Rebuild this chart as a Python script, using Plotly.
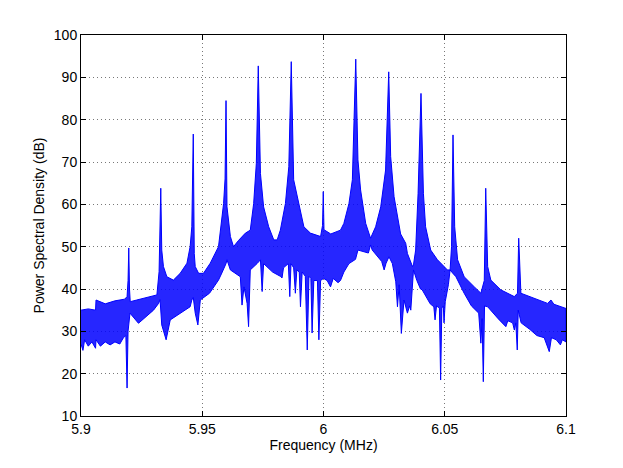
import plotly.graph_objects as go

# Upper envelope of the PSD trace (frequency in MHz, level in dB)
upper_f = [5.9000, 5.9030, 5.9060, 5.9062, 5.9100, 5.9140, 5.9180, 5.9190, 5.9194, 5.9197,
           5.9200, 5.9203, 5.9230, 5.9270, 5.9313, 5.9322, 5.9329, 5.9333, 5.9340, 5.9354,
           5.9381, 5.9409, 5.9437, 5.9450, 5.9457, 5.9463, 5.9467, 5.9471, 5.9485, 5.9505,
           5.9533, 5.9567, 5.9581, 5.9588, 5.9594, 5.9598, 5.9602, 5.9616, 5.9629, 5.9650,
           5.9678, 5.9698, 5.9712, 5.9723, 5.9731, 5.9740, 5.9753, 5.9774, 5.9795, 5.9809,
           5.9822, 5.9843, 5.9857, 5.9867, 5.9877, 5.9898, 5.9919, 5.9946, 5.9988, 5.9996,
           5.9999, 6.0002, 6.0030, 6.0070, 6.0084, 6.0105, 6.0119, 6.0133, 6.0142, 6.0153,
           6.0174, 6.0194, 6.0215, 6.0236, 6.0256, 6.0269, 6.0277, 6.0291, 6.0318, 6.0339,
           6.0346, 6.0367, 6.0371, 6.0380, 6.0390, 6.0402, 6.0412, 6.0421, 6.0442, 6.0470,
           6.0511, 6.0522, 6.0528, 6.0534, 6.0541, 6.0553, 6.0580, 6.0622, 6.0649, 6.0663,
           6.0669, 6.0677, 6.0690, 6.0731, 6.0787, 6.0800, 6.0805, 6.0814, 6.0869, 6.0924,
           6.0938, 6.0950, 6.1000]
upper_db = [35.0, 35.3, 35.0, 37.4, 36.5, 37.2, 37.6, 38.2, 42.0, 49.7,
            40.0, 37.0, 37.4, 38.0, 38.6, 44.1, 63.8, 49.2, 45.3, 42.9,
            42.1, 43.7, 46.1, 50.0, 54.7, 76.6, 48.4, 45.3, 43.7, 43.7,
            46.1, 50.0, 56.3, 60.2, 66.0, 84.5, 59.4, 52.4, 50.0, 51.5,
            53.2, 53.9, 60.2, 69.7, 92.7, 67.3, 59.4, 54.7, 51.6, 51.6,
            53.9, 60.2, 68.9, 93.7, 65.8, 60.2, 54.7, 53.2, 52.4, 55.0,
            63.0, 54.0, 53.0, 53.9, 55.5, 60.2, 65.8, 94.3, 70.5, 63.4,
            55.5, 52.0, 54.7, 59.4, 68.1, 91.3, 71.3, 61.8, 53.0, 50.8,
            48.4, 45.3, 45.7, 49.2, 62.6, 86.2, 62.6, 54.7, 49.2, 46.9,
            44.5, 44.5, 50.0, 76.4, 54.7, 46.9, 42.9, 40.5, 39.0, 42.0,
            63.8, 45.3, 42.1, 39.8, 38.2, 39.0, 52.0, 39.0, 37.8, 36.6,
            37.4, 36.4, 35.4]

# Lower envelope of the PSD trace (frequency in MHz, level in dB)
lower_f = [5.9000, 5.9008, 5.9015, 5.9030, 5.9045, 5.9060, 5.9062, 5.9080, 5.9100, 5.9120,
           5.9140, 5.9160, 5.9175, 5.9185, 5.9190, 5.9194, 5.9202, 5.9237, 5.9271, 5.9299,
           5.9320, 5.9326, 5.9333, 5.9351, 5.9368, 5.9390, 5.9409, 5.9430, 5.9450, 5.9457,
           5.9463, 5.9471, 5.9482, 5.9492, 5.9530, 5.9567, 5.9581, 5.9598, 5.9602, 5.9616,
           5.9640, 5.9657, 5.9664, 5.9672, 5.9685, 5.9691, 5.9698, 5.9726, 5.9740, 5.9747,
           5.9753, 5.9790, 5.9822, 5.9829, 5.9835, 5.9855, 5.9861, 5.9866, 5.9877, 5.9884,
           5.9890, 5.9900, 5.9905, 5.9912, 5.9925, 5.9933, 5.9940, 5.9948, 5.9953, 5.9960,
           5.9975, 5.9981, 5.9988, 6.0000, 6.0015, 6.0029, 6.0040, 6.0060, 6.0070, 6.0084,
           6.0105, 6.0132, 6.0142, 6.0185, 6.0194, 6.0201, 6.0240, 6.0250, 6.0258, 6.0270,
           6.0284, 6.0298, 6.0305, 6.0312, 6.0321, 6.0332, 6.0346, 6.0355, 6.0360, 6.0371,
           6.0385, 6.0400, 6.0407, 6.0440, 6.0455, 6.0460, 6.0466, 6.0478, 6.0483, 6.0488,
           6.0494, 6.0497, 6.0502, 6.0515, 6.0522, 6.0532, 6.0546, 6.0580, 6.0610, 6.0640,
           6.0649, 6.0654, 6.0659, 6.0664, 6.0677, 6.0720, 6.0752, 6.0760, 6.0780, 6.0787,
           6.0793, 6.0799, 6.0803, 6.0815, 6.0850, 6.0880, 6.0910, 6.0931, 6.0940, 6.0960,
           6.0977, 6.0985, 6.1000]
lower_db = [27.0, 25.5, 28.0, 26.5, 27.5, 26.0, 28.0, 26.5, 27.5, 26.8,
            27.5, 27.0, 28.5, 29.0, 16.6, 30.0, 34.3, 31.9, 33.5, 35.0,
            36.6, 37.5, 31.5, 28.0, 32.7, 33.5, 34.3, 35.0, 35.8, 37.4,
            38.0, 34.3, 31.5, 37.4, 39.0, 42.1, 43.8, 46.0, 46.9, 44.5,
            43.5, 42.9, 36.2, 40.5, 36.6, 31.1, 44.5, 46.0, 46.9, 39.4,
            46.0, 44.0, 43.0, 42.6, 45.0, 46.0, 38.2, 46.0, 45.0, 39.0,
            44.5, 44.0, 35.8, 44.0, 43.0, 25.6, 43.0, 42.5, 29.6, 42.0,
            42.0, 28.0, 42.0, 42.5, 42.0, 40.5, 42.5, 41.5, 42.0, 44.0,
            46.0, 47.0, 49.2, 48.5, 50.4, 49.2, 46.5, 44.5, 46.1, 47.6,
            46.0, 41.7, 35.8, 41.0, 29.5, 37.4, 34.3, 36.0, 35.0, 44.5,
            42.0, 40.0, 39.8, 36.5, 35.8, 32.7, 36.0, 35.5, 18.5, 35.5,
            36.0, 32.0, 37.0, 41.0, 44.5, 43.8, 42.9, 39.0, 36.0, 34.3,
            27.2, 33.0, 18.1, 36.0, 35.8, 33.0, 31.1, 32.5, 32.0, 30.3,
            32.0, 25.6, 35.0, 32.0, 30.5, 29.0, 28.5, 25.2, 28.5, 28.0,
            26.8, 28.0, 27.5]

x_ticks = [5.9, 5.95, 6.0, 6.05, 6.1]
x_tick_labels = ["5.9", "5.95", "6", "6.05", "6.1"]
y_ticks = [10, 20, 30, 40, 50, 60, 70, 80, 90, 100]

band_x = upper_f + lower_f[::-1]
band_y = upper_db + lower_db[::-1]

fig = go.Figure()
fig.add_trace(go.Scatter(
    x=band_x, y=band_y, mode="lines", fill="toself",
    fillcolor="rgba(0,0,255,0.85)",
    line=dict(color="rgb(0,0,255)", width=1),
    hoverinfo="skip", showlegend=False,
))

font = dict(family="Liberation Sans, Arial, Helvetica, sans-serif", size=14, color="black")
axis_common = dict(
    showgrid=True, gridcolor="rgb(120,120,120)", griddash="1px,3px", gridwidth=1,
    zeroline=False, showline=True, linecolor="black", linewidth=1,
    mirror="ticks", ticks="inside", ticklen=5, tickcolor="black",
    tickfont=font, automargin=False,
)
# page body adds an 8px offset, so the figure is sized/placed to compensate
fig.update_layout(
    width=615, height=460,
    margin=dict(l=73, r=57, t=27, b=52),
    paper_bgcolor="white", plot_bgcolor="white",
    font=font, showlegend=False,
    xaxis=dict(range=[5.9, 6.1], tickvals=x_ticks, ticktext=x_tick_labels,
               title=dict(text="Frequency (MHz)", font=font, standoff=4), **axis_common),
    yaxis=dict(range=[10, 100], tickvals=y_ticks,
               title=dict(text="Power Spectral Density (dB)", font=font, standoff=5), **axis_common),
)
fig.write_html("out.html")
